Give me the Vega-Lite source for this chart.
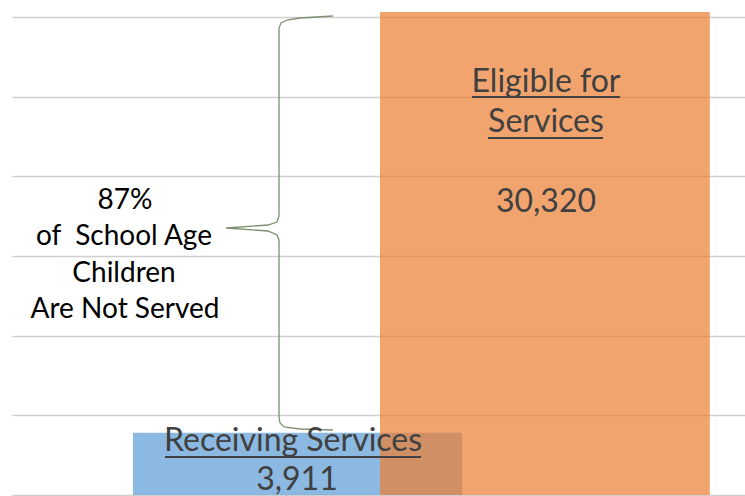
{
  "$schema": "https://vega.github.io/schema/vega-lite/v6.json",
  "width": 733,
  "height": 478,
  "autosize": {"type": "none"},
  "padding": {"left": 12, "top": 17, "right": 0, "bottom": 1},
  "background": "white",
  "config": {"view": {"stroke": null}},
  "datasets": {
    "bars": [
      {"name": "Receiving Services", "value": 3911, "x0": 16.5, "x1": 61.4},
      {"name": "Eligible for Services", "value": 30320, "x0": 50.2, "x1": 95.2}
    ],
    "brace": [
      {"i": 1, "bx": 43.79, "by": 30062},
      {"i": 2, "bx": 39.29, "by": 29936},
      {"i": 3, "bx": 37.52, "by": 29811},
      {"i": 4, "bx": 36.70, "by": 29623},
      {"i": 5, "bx": 36.43, "by": 29309},
      {"i": 6, "bx": 36.43, "by": 17510},
      {"i": 7, "bx": 36.15, "by": 17133},
      {"i": 8, "bx": 34.92, "by": 16945},
      {"i": 9, "bx": 29.19, "by": 16757},
      {"i": 10, "bx": 34.92, "by": 16569},
      {"i": 11, "bx": 36.15, "by": 16318},
      {"i": 12, "bx": 36.43, "by": 16004},
      {"i": 13, "bx": 36.43, "by": 4896},
      {"i": 14, "bx": 36.56, "by": 4519},
      {"i": 15, "bx": 37.11, "by": 4268},
      {"i": 16, "bx": 39.29, "by": 4142},
      {"i": 17, "bx": 43.79, "by": 4079}
    ],
    "leftText": [
      {"t": "87%", "tx": 15.42, "ty": 17950},
      {"t": "of\u00a0 School Age", "tx": 15.28, "ty": 15690},
      {"t": "Children", "tx": 15.28, "ty": 13368},
      {"t": "Are Not Served", "tx": 15.42, "ty": 11109}
    ],
    "barText": [
      {"t": "Eligible for", "tx": 72.85, "ty": 25292},
      {"t": "Services", "tx": 72.85, "ty": 22782},
      {"t": "30,320", "tx": 72.85, "ty": 17761},
      {"t": "Receiving Services", "tx": 38.34, "ty": 2761},
      {"t": "3,911", "tx": 38.88, "ty": 314}
    ],
    "underlines": [
      {"u0": 62.76, "u1": 82.95, "uy": 24978},
      {"u0": 64.94, "u1": 80.63, "uy": 22405},
      {"u0": 20.87, "u1": 55.80, "uy": 2385}
    ]
  },
  "layer": [
    {
      "data": {"name": "bars"},
      "mark": {"type": "rect", "opacity": 0.7, "clip": false},
      "encoding": {
        "x": {"field": "x0", "type": "quantitative", "scale": {"domain": [0, 100], "nice": false, "zero": false}, "axis": null},
        "x2": {"field": "x1"},
        "y": {"field": "value", "type": "quantitative", "scale": {"domain": [0, 30000], "nice": false},
              "axis": {"values": [0, 5000, 10000, 15000, 20000, 25000, 30000], "grid": true, "gridColor": "#CFCFCF", "gridWidth": 1.5, "labels": false, "ticks": false, "domain": false, "title": null}},
        "y2": {"datum": 0},
        "color": {"field": "name", "type": "nominal", "scale": {"domain": ["Receiving Services", "Eligible for Services"], "range": ["#5B9BD5", "#ED7D31"]}, "legend": null}
      }
    },
    {
      "data": {"name": "brace"},
      "mark": {"type": "line", "color": "#7F9070", "strokeWidth": 1.3, "interpolate": "linear", "clip": false},
      "encoding": {
        "x": {"field": "bx", "type": "quantitative"},
        "y": {"field": "by", "type": "quantitative"},
        "order": {"field": "i", "type": "quantitative"}
      }
    },
    {
      "data": {"name": "leftText"},
      "mark": {"type": "text", "font": "Lato", "fontSize": 28, "color": "#000000", "align": "center", "baseline": "alphabetic"},
      "encoding": {
        "x": {"field": "tx", "type": "quantitative"},
        "y": {"field": "ty", "type": "quantitative"},
        "text": {"field": "t"}
      }
    },
    {
      "data": {"name": "barText"},
      "mark": {"type": "text", "font": "Lato", "fontSize": 32, "color": "#404040", "align": "center", "baseline": "alphabetic"},
      "encoding": {
        "x": {"field": "tx", "type": "quantitative"},
        "y": {"field": "ty", "type": "quantitative"},
        "text": {"field": "t"}
      }
    },
    {
      "data": {"name": "underlines"},
      "mark": {"type": "rule", "color": "#404040", "strokeWidth": 2},
      "encoding": {
        "x": {"field": "u0", "type": "quantitative"},
        "x2": {"field": "u1"},
        "y": {"field": "uy", "type": "quantitative"}
      }
    }
  ]
}
